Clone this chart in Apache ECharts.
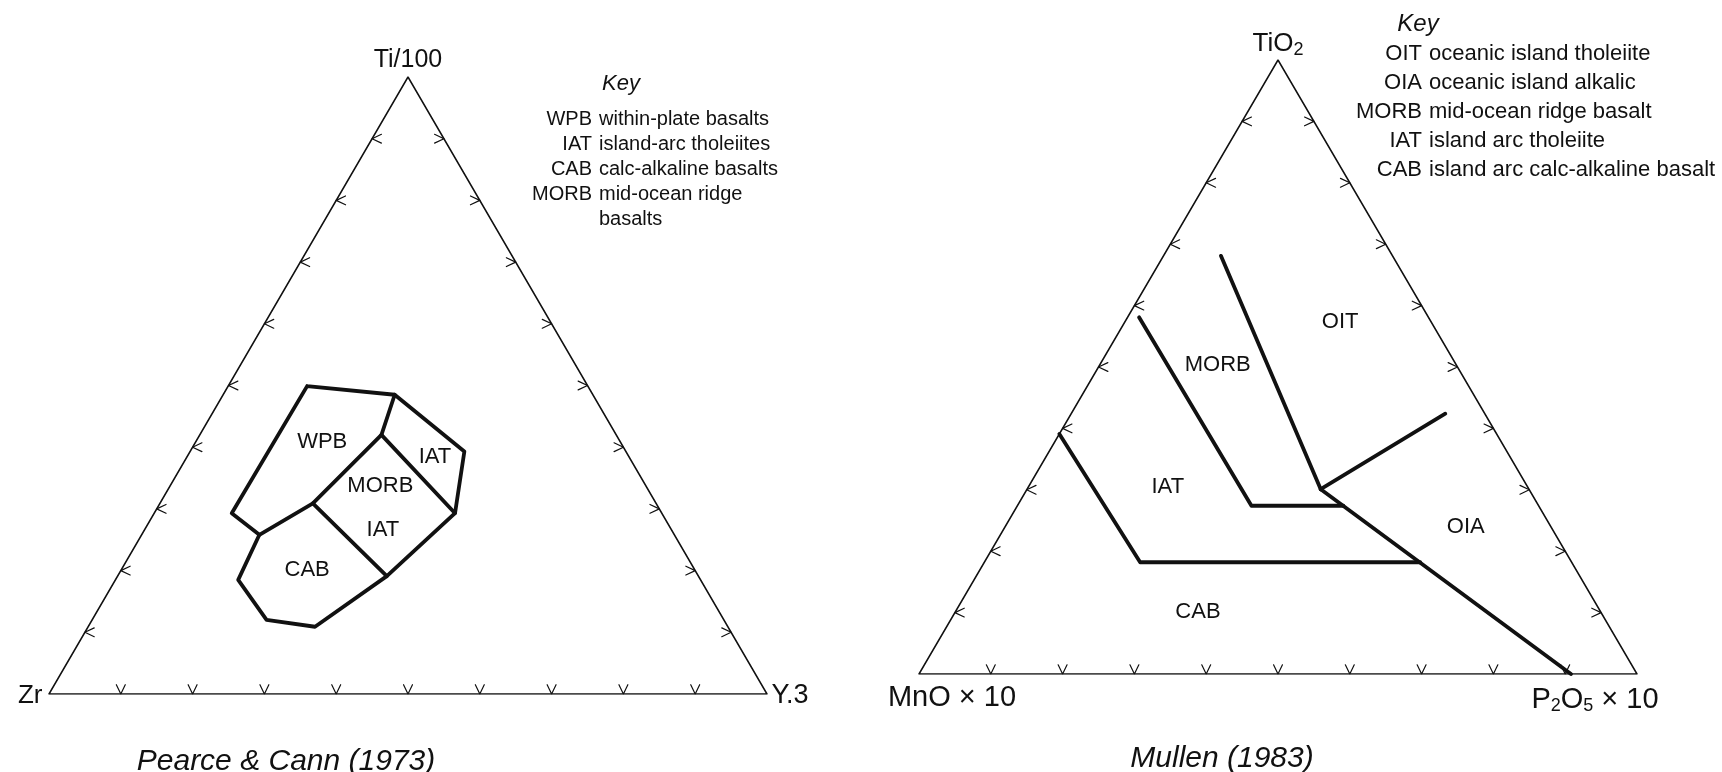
<!DOCTYPE html>
<html><head><meta charset="utf-8">
<script src="https://cdn.jsdelivr.net/npm/echarts@6/dist/echarts.min.js"></script>
<style>html,body{margin:0;padding:0;background:#fff}#c{width:1722px;height:772px}</style>
</head><body><div id="c"></div>
<script>
// ================= DATA =================
const tickValues = [10, 20, 30, 40, 50, 60, 70, 80, 90];

// Pearce & Cann (1973): vertices as [Ti/100, Zr, Y*3] in %
const pcCorners = ['Ti/100', 'Zr', 'Y.3'];
const pcOutline = [[49.9,39.1,11.0],[48.5,27.6,23.9],[39.3,22.5,38.2],[29.3,28.8,41.9],[19.1,43.4,37.5],[10.9,57.5,31.6],[12.0,63.7,24.3],[18.5,64.4,17.1],[25.8,57.8,16.4],[29.3,59.9,10.8],[49.9,39.1,11.0]];
const pcWpbIat = [[48.5,27.6,23.9],[42.0,32.7,25.3]];
const pcMorbIatUpper = [[42.0,32.7,25.3],[29.3,28.8,41.9]];
const pcWpbMorbCab = [[42.0,32.7,25.3],[30.9,47.8,21.3],[25.8,57.8,16.4]];
const pcCabIat = [[30.9,47.8,21.3],[19.1,43.4,37.5]];
const pcFieldNames = ['WPB', 'IAT', 'MORB', 'IAT', 'CAB'];
const pcFieldPos = [[40.9,41.5,17.6],[38.5,27.0,34.5],[33.7,37.0,29.3],[26.6,40.2,33.2],[20.1,54.0,25.9]];
const pcKeyAbbr = ['WPB', 'IAT', 'CAB', 'MORB', ''];
const pcKeyText = ['within-plate basalts', 'island-arc tholeiites', 'calc-alkaline basalts', 'mid-ocean ridge', 'basalts'];
const pcTitle = 'Pearce & Cann (1973)';

// Mullen (1983): vertices as [TiO2, MnO*10, P2O5*10] in %
const mlCorners = ['TiO2', 'MnO × 10', 'P2O5 × 10'];
const mlOitMorb = [[68.1,23.9,8.0],[30.1,29.0,40.9]];
const mlOitOia = [[30.1,29.0,40.9],[42.4,5.5,52.1]];
const mlOiaBoundary = [[30.1,29.0,40.9],[0,9.2,90.8]];
const mlMorbIat = [[58.1,40.3,1.6],[27.4,40.0,32.6],[27.4,27.2,45.4]];
const mlIatCab = [[39.1,60.9,0],[18.2,60.1,21.7],[18.2,21.1,60.7]];
const mlFieldNames = ['OIT', 'MORB', 'IAT', 'OIA', 'CAB'];
const mlFieldPos = [[57.3,12.7,30.0],[50.4,33.2,16.4],[30.5,50.1,19.4],[23.9,11.9,64.2],[10.1,56.1,33.8]];
const mlKeyAbbr = ['OIT', 'OIA', 'MORB', 'IAT', 'CAB'];
const mlKeyText = ['oceanic island tholeiite', 'oceanic island alkalic', 'mid-ocean ridge basalt', 'island arc tholeiite', 'island arc calc-alkaline basalt'];
const mlTitle = 'Mullen (1983)';

// ================= HELPERS =================
const SQ = Math.sqrt(3) / 2;
function tern(p) { const s = p[0] + p[1] + p[2]; return [(p[2] + p[0] / 2) / s, p[0] / s * SQ]; }
const frame = [[0,100,0],[0,0,100],[100,0,0],[0,100,0]];
function tickMarks(vals) {
  const d = 0.013, w = 0.0062, out = [];
  vals.forEach(v => {
    const b = tern([0, 100 - v, v]);
    out.push([[b[0] - w, b[1] + d], b, [b[0] + w, b[1] + d]]);
    const l = tern([v, 100 - v, 0]);
    out.push([[l[0] + d, l[1] + w], l, [l[0] + d, l[1] - w]]);
    const r = tern([v, 0, 100 - v]);
    out.push([[r[0] - d, r[1] + w], r, [r[0] - d, r[1] - w]]);
  });
  return out;
}
const INK = '#111111';
const FONT = '"Liberation Sans", Arial, sans-serif';
function lines(gi, polys, width) {
  return { type: 'lines', coordinateSystem: 'cartesian2d', xAxisIndex: gi, yAxisIndex: gi, polyline: true, silent: true,
    lineStyle: { color: INK, width: width, opacity: 1, cap: 'round', join: 'round', curveness: 0 },
    data: polys.map(c => ({ coords: c })) };
}
function fieldLabels(gi, names, pos, size) {
  return { type: 'scatter', xAxisIndex: gi, yAxisIndex: gi, symbolSize: 1, silent: true,
    itemStyle: { color: 'rgba(0,0,0,0)', opacity: 1 },
    label: { show: true, position: 'inside', formatter: '{b}', color: INK, opacity: 1, textBorderWidth: 0, fontSize: size, fontFamily: FONT },
    data: names.map((n, i) => ({ name: n, value: tern(pos[i]) })) };
}
function subFmt(s) { return s.replace(/([A-Za-z])(\d)/g, '$1{s|$2}'); }
function cornerLabels(gi, names, cfg) {
  const pts = [[100,0,0],[0,100,0],[0,0,100]];
  return { type: 'scatter', xAxisIndex: gi, yAxisIndex: gi, symbolSize: 1, silent: true,
    itemStyle: { color: 'rgba(0,0,0,0)', opacity: 1 },
    label: { show: true, color: INK, opacity: 1, textBorderWidth: 0, fontSize: 25, fontFamily: FONT, formatter: p => subFmt(p.name),
      rich: { s: { fontSize: 18, fontFamily: FONT, color: INK, padding: [14, 0, 0, 0] } } },
    data: names.map((n, i) => ({ name: n, value: tern(pts[i]), label: cfg[i] })) };
}
function keyGraphics(cx, ky, ax, tx, y0, dy, abbr, text, size) {
  const g = [{ type: 'text', x: cx, y: ky, style: { text: 'Key', font: 'italic ' + (size + 2) + 'px ' + FONT, fill: INK, align: 'center', verticalAlign: 'middle' } }];
  abbr.forEach((a, i) => {
    g.push({ type: 'text', x: ax, y: y0 + dy * i, style: { text: a, font: size + 'px ' + FONT, fill: INK, align: 'right', verticalAlign: 'middle' } });
    g.push({ type: 'text', x: tx, y: y0 + dy * i, style: { text: text[i], font: size + 'px ' + FONT, fill: INK, align: 'left', verticalAlign: 'middle' } });
  });
  return g;
}

const chart = echarts.init(document.getElementById('c'), null, { renderer: 'canvas' });
const option = {
  animation: false,
  backgroundColor: '#ffffff',
  grid: [
    { left: 49, top: 77, width: 718, height: 617 },
    { left: 919, top: 60, width: 718, height: 614 }
  ],
  xAxis: [
    { gridIndex: 0, type: 'value', min: 0, max: 1, show: false },
    { gridIndex: 1, type: 'value', min: 0, max: 1, show: false }
  ],
  yAxis: [
    { gridIndex: 0, type: 'value', min: 0, max: SQ, show: false },
    { gridIndex: 1, type: 'value', min: 0, max: SQ, show: false }
  ],
  series: [
    lines(0, [frame.map(tern)], 1.5),
    lines(0, tickMarks(tickValues), 1.2),
    lines(0, [pcOutline, pcWpbIat, pcMorbIatUpper, pcWpbMorbCab, pcCabIat].map(a => a.map(tern)), 3.8),
    fieldLabels(0, pcFieldNames, pcFieldPos, 22),
    cornerLabels(0, pcCorners, [
      { position: 'top', distance: 4 },
      { position: 'left', distance: 6, offset: [0, 2], fontSize: 26 },
      { position: 'right', distance: 4, offset: [0, 2], fontSize: 27 }
    ]),
    lines(1, [frame.map(tern)], 1.5),
    lines(1, tickMarks(tickValues), 1.2),
    lines(1, [mlOitMorb, mlOitOia, mlOiaBoundary, mlMorbIat, mlIatCab].map(a => a.map(tern)), 3.8),
    fieldLabels(1, mlFieldNames, mlFieldPos, 22),
    cornerLabels(1, mlCorners, [
      { position: 'top', distance: 0, fontSize: 26 },
      { position: 'bottom', distance: 9, offset: [33, 0], fontSize: 29 },
      { position: 'bottom', distance: 9, offset: [-42, 0], fontSize: 29 }
    ])
  ],
  graphic: [].concat(
    keyGraphics(621, 84, 592, 599, 119, 25, pcKeyAbbr, pcKeyText, 20),
    keyGraphics(1418, 24, 1422, 1429, 53.5, 29.2, mlKeyAbbr, mlKeyText, 22),
    [
      { type: 'text', x: 286, y: 762, style: { text: pcTitle, font: 'italic 30px ' + FONT, fill: INK, align: 'center', verticalAlign: 'middle' } },
      { type: 'text', x: 1222, y: 759, style: { text: mlTitle, font: 'italic 30px ' + FONT, fill: INK, align: 'center', verticalAlign: 'middle' } }
    ]
  )
};
chart.setOption(option);
</script></body></html>
